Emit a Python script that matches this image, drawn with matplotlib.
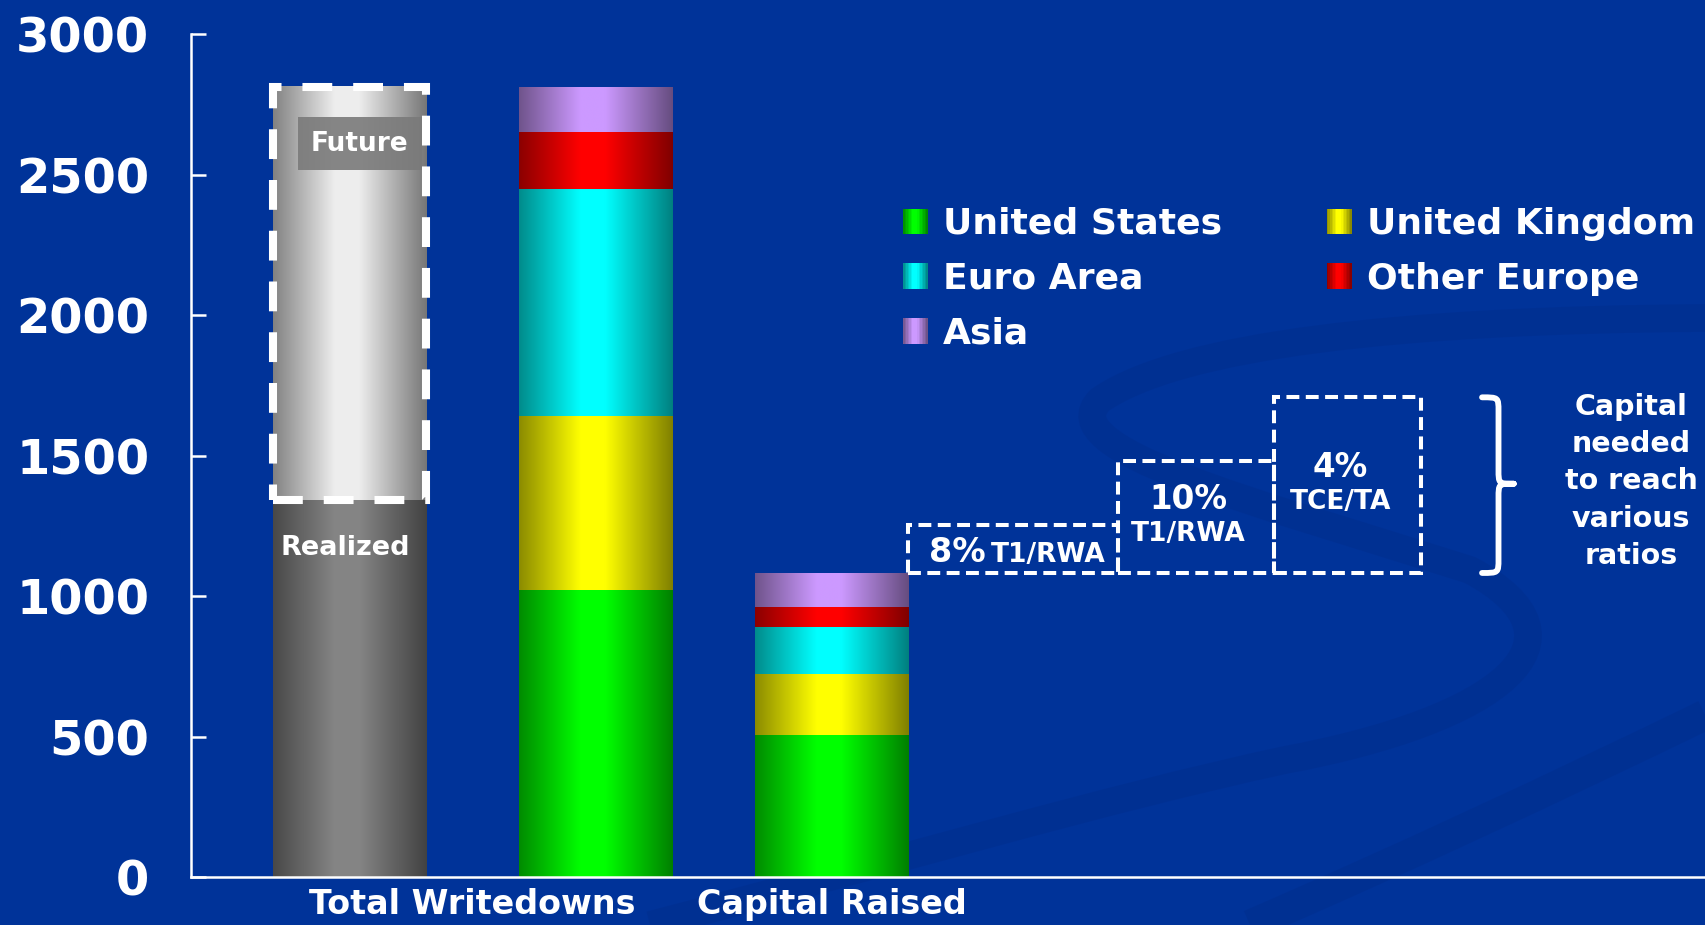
import numpy as np
import matplotlib
matplotlib.use("Agg")
import matplotlib.pyplot as plt
from matplotlib.colors import to_rgb
from matplotlib.patches import Rectangle, PathPatch
from matplotlib.path import Path
from matplotlib.legend_handler import HandlerBase

# writedowns and capital raised, $ billions
categories = ["Total Writedowns", "Capital Raised"]
regions = ["United States", "United Kingdom", "Euro Area", "Other Europe", "Asia"]
region_colors = ["#00FF00", "#FFFF00", "#00FFFF", "#FF0000", "#CC99FF"]
writedowns = [1020, 620, 810, 200, 160]
capital_raised = [505, 218, 166, 73, 120]
realized = 1340
future = 1470

# extra capital needed on top of what was raised
needed_pct = ["8%", "10%", "4%"]
needed_ratio = ["T1/RWA", "T1/RWA", "TCE/TA"]
capital_needed = [170, 400, 625]

BG = "#003399"
plt.rcParams["font.family"] = "DejaVu Sans"
plt.rcParams["font.weight"] = "bold"


def shade(t):
    # dark at the edges, bright in the middle -> cylinder look
    d = np.abs(t - 0.48)
    return 0.5 + 0.5 * np.clip(1 - (d - 0.08) / 0.44, 0, 1)


def gradient_fill(ax, patch, color):
    rgb = np.array(to_rgb(color))
    t = np.linspace(0, 1, 256)
    img = np.clip(shade(t)[:, None] * rgb[None, :], 0, 1)
    x0, y0 = patch.get_x(), patch.get_y()
    w, h = patch.get_width(), patch.get_height()
    ax.imshow(img[None, :, :], extent=(x0, x0 + w, y0, y0 + h),
              aspect="auto", interpolation="bilinear", zorder=2)


class GradientHandler(HandlerBase):
    def create_artists(self, legend, orig_handle, xdescent, ydescent,
                       width, height, fontsize, trans):
        rgb = np.array(orig_handle.get_facecolor()[:3])
        n = 16
        out = []
        for i in range(n):
            t = (i + 0.5) / n
            r = Rectangle((-xdescent + width * i / n, -ydescent), width / n * 1.08, height,
                          facecolor=np.clip(rgb * shade(t), 0, 1), edgecolor="none",
                          transform=trans)
            out.append(r)
        return out


fig = plt.figure(figsize=(17.05, 9.25), dpi=100, facecolor=BG)

# faint swooshes in the slide background (pixel coords, y down)
bg = fig.add_axes([0, 0, 1, 1], zorder=-5)
bg.set_xlim(0, 1705)
bg.set_ylim(925, 0)
bg.axis("off")
swoosh_color = "#002a85"
loop = Path([(1705, 318), (1400, 320), (1180, 345), (1100, 400),
             (1050, 450), (1250, 500), (1470, 570),
             (1600, 640), (1500, 720), (1285, 760),
             (1100, 800), (900, 860), (650, 925)],
            [Path.MOVETO, Path.CURVE4, Path.CURVE4, Path.CURVE4,
             Path.CURVE4, Path.CURVE4, Path.CURVE4,
             Path.CURVE4, Path.CURVE4, Path.CURVE4,
             Path.CURVE4, Path.CURVE4, Path.CURVE4])
bg.add_patch(PathPatch(loop, fill=False, ec=swoosh_color, lw=20, alpha=0.3))
band = Path([(1705, 715), (1550, 790), (1400, 860), (1250, 925)],
            [Path.MOVETO, Path.CURVE4, Path.CURVE4, Path.CURVE4])
bg.add_patch(PathPatch(band, fill=False, ec=swoosh_color, lw=22, alpha=0.3))

ax = fig.add_axes([191 / 1705, 48 / 925, 1 - 191 / 1705, 843 / 925])
ax.set_facecolor("none")

x_total, x_region, x_cap = 0.0, 1.0, 1.96
bw = 0.624

# grey bar: realized + future
b_real = ax.bar(x_total, realized, bw, color="#858585", zorder=1)
b_fut = ax.bar(x_total, future, bw, bottom=realized, color="#e8e8e8", zorder=1)
gradient_fill(ax, b_real.patches[0], (0.52, 0.52, 0.52))
gradient_fill(ax, b_fut.patches[0], (0.93, 0.93, 0.93))

fp = b_fut.patches[0]
ax.add_patch(Rectangle((fp.get_x(), fp.get_y()), fp.get_width(), fp.get_height(),
                       fill=False, ec="white", lw=5.8, ls=(0, (3.7, 2.6)), zorder=4))
ax.text(x_total + 0.04, realized + future - 200, "Future", ha="center", va="center",
        fontsize=19, color="white", zorder=5,
        bbox=dict(boxstyle="square,pad=0.5", fc="#7a7a7a", ec="none", alpha=0.9))
ax.text(x_total - 0.02, realized - 170, "Realized", ha="center", va="center",
        fontsize=19.5, color="white", zorder=5)

# regional stacks
handles = []
bottom_w = 0
bottom_c = 0
for name, col, w, c in zip(regions, region_colors, writedowns, capital_raised):
    bw1 = ax.bar(x_region, w, bw, bottom=bottom_w, color=col, zorder=1, label=name)
    bw2 = ax.bar(x_cap, c, bw, bottom=bottom_c, color=col, zorder=1)
    gradient_fill(ax, bw1.patches[0], col)
    gradient_fill(ax, bw2.patches[0], col)
    handles.append(bw1.patches[0])
    bottom_w += w
    bottom_c += c

# dashed boxes: capital needed for each ratio
box_left = [x_cap + bw / 2, 3.124, 3.761]
box_width = [3.124 - (x_cap + bw / 2), 3.761 - 3.124, 4.358 - 3.761]
boxes = ax.bar(box_left, capital_needed, box_width, bottom=bottom_c, align="edge",
               fill=False, edgecolor="white", lw=2.9, ls=(0, (3.2, 1.6)), zorder=3)

p0 = boxes.patches[0]
xc = p0.get_x() + p0.get_width() / 2
ax.text(xc - 0.11, bottom_c + 39, needed_pct[0], ha="right", va="baseline",
        fontsize=24, color="white")
ax.text(xc - 0.09, bottom_c + 39, needed_ratio[0], ha="left", va="baseline",
        fontsize=19, color="white")
for p, pct, ratio, dy in zip(boxes.patches[1:], needed_pct[1:], needed_ratio[1:], [263, 375]):
    xc = p.get_x() + p.get_width() / 2 - 0.03
    ax.text(xc, bottom_c + dy, pct, ha="center", va="center", fontsize=23.5, color="white")
    ax.text(xc, bottom_c + dy - 124, ratio, ha="center", va="center", fontsize=19, color="white")

# curly brace
top = bottom_c + max(capital_needed)
bot = bottom_c
mid = (top + bot) / 2 + 5
x0, x1, x2 = 4.606, 4.673, 4.735
r = 50
verts = [(x0, top), (x1, top), (x1, top), (x1, top - r),
         (x1, mid + r),
         (x1, mid), (x1, mid), (x2, mid),
         (x1, mid), (x1, mid), (x1, mid - r),
         (x1, bot + r),
         (x1, bot), (x1, bot), (x0, bot)]
codes = [Path.MOVETO, Path.CURVE4, Path.CURVE4, Path.CURVE4,
         Path.LINETO,
         Path.CURVE4, Path.CURVE4, Path.CURVE4,
         Path.CURVE4, Path.CURVE4, Path.CURVE4,
         Path.LINETO,
         Path.CURVE4, Path.CURVE4, Path.CURVE4]
ax.add_patch(PathPatch(Path(verts, codes), fill=False, ec="white", lw=4.2,
                       capstyle="round", joinstyle="round"))
ax.text(5.212, mid + 8, "Capital\nneeded\nto reach\nvarious\nratios", ha="center",
        va="center", fontsize=20.5, color="white", linespacing=1.42)

# legend
order = [0, 2, 4, 1, 3]
leg = ax.legend([handles[i] for i in order], [regions[i] for i in order], ncol=2,
                handler_map={Rectangle: GradientHandler()},
                loc="upper left", bbox_to_anchor=(903 / 1705, 1 - 207 / 925),
                bbox_transform=fig.transFigure, frameon=False, fontsize=26,
                handlelength=0.69, handleheight=0.72, handletextpad=0.42,
                columnspacing=2.9, labelspacing=0.58, borderpad=0, borderaxespad=0)
for t in leg.get_texts():
    t.set_color("white")

# axes
ax.set_xlim(-0.646, 5.513)
ax.set_ylim(0, 3000)
ax.set_yticks([0, 500, 1000, 1500, 2000, 2500, 3000])
ax.set_xticks([(x_total + x_region) / 2, x_cap])
ax.set_xticklabels(categories)
for s in ["top", "right"]:
    ax.spines[s].set_visible(False)
for s in ["left", "bottom"]:
    ax.spines[s].set_color("white")
    ax.spines[s].set_linewidth(1.8)
ax.tick_params(axis="y", direction="in", length=10.8, width=1.8, color="white",
               labelcolor="white", labelsize=34.5, pad=30)
ax.tick_params(axis="x", length=0, labelcolor="white", labelsize=24, pad=8)

fig.savefig("out.png", dpi=100, facecolor=BG)
